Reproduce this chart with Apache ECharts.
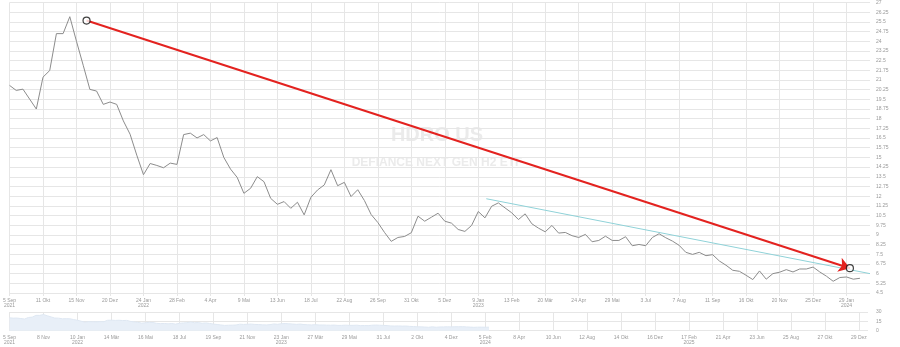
<!DOCTYPE html>
<html><head><meta charset="utf-8">
<script src="https://cdn.jsdelivr.net/npm/echarts@6/dist/echarts.min.js"></script>
<style>html,body{margin:0;padding:0;background:#fff}#c{width:900px;height:347px}</style>
</head><body><div id="c"></div>
<script>
// weekly closes, week 0 = 5 Sep 2021
const prices = [
  20.58, 20.19, 20.29, 19.52, 18.75, 21.22, 21.73, 24.59, 24.59, 25.90,
  23.99, 22.14, 20.27, 20.14, 19.11, 19.29, 19.11, 17.83, 16.80, 15.18,
  13.66, 14.53, 14.38, 14.20, 14.56, 14.46, 16.77, 16.88, 16.51, 16.77,
  16.28, 16.54, 15.00, 14.10, 13.45, 12.22, 12.61, 13.51, 13.12, 11.83,
  11.37, 11.58, 11.06, 11.53, 10.55, 11.91, 12.48, 12.87, 14.05, 12.81,
  13.07, 11.97, 12.50, 11.66, 10.58, 9.96, 9.19, 8.50, 8.80, 8.88,
  9.17, 10.45, 10.06, 10.37, 10.68, 10.06, 9.91, 9.42, 9.27, 9.73,
  10.81, 10.32, 11.22, 11.48, 11.09, 10.71, 10.19, 10.63, 9.86, 9.52,
  9.24, 9.73, 9.14, 9.19, 8.94, 8.80, 9.04, 8.47, 8.57, 8.90,
  8.57, 8.57, 8.86, 8.16, 8.26, 8.16, 8.80, 9.09, 8.78, 8.52,
  8.19, 7.65, 7.49, 7.65, 7.39, 7.47, 6.98, 6.65, 6.26, 6.18,
  5.87, 5.54, 6.21, 5.57, 6.00, 6.11, 6.31, 6.13, 6.36, 6.36,
  6.51, 6.13, 5.80, 5.41, 5.70, 5.74, 5.57, 5.64
];
const mainTickLabels = ['5 Sep\n2021','11 Okt','15 Nov','20 Dez','24 Jan\n2022','28 Feb','4 Apr','9 Mai','13 Jun','18 Jul','22 Aug','26 Sep','31 Okt','5 Dez','9 Jan\n2023','13 Feb','20 Mär','24 Apr','29 Mai','3 Jul','7 Aug','11 Sep','16 Okt','20 Nov','25 Dez','29 Jan\n2024'];
const navTickLabels = ['5 Sep\n2021','8 Nov','10 Jan\n2022','14 Mär','16 Mai','18 Jul','19 Sep','21 Nov','23 Jan\n2023','27 Mär','29 Mai','31 Jul','2 Okt','4 Dez','5 Feb\n2024','8 Apr','10 Jun','12 Aug','14 Okt','16 Dez','17 Feb\n2025','21 Apr','23 Jun','25 Aug','27 Okt','29 Dez'];
// annotations in data units [week, price]
const arrowStart = [11.5, 25.6];
const arrowEnd = [125.5, 6.42];
const trendStart = [71.2, 11.8];
const trendEnd = [128.5, 6.0];

const font = '"Liberation Sans", Arial, sans-serif';
const gridColor = '#e6e6e6';
const labelColor = '#9a9a9a';
const pts = prices.map((v, i) => [i, v]);

const chart = echarts.init(document.getElementById('c'), null, {renderer: 'canvas'});
chart.setOption({
  animation: false,
  textStyle: {fontFamily: font},
  grid: [
    {left: 3, right: 30, top: 1, height: 292},
    {left: 4, right: 32, top: 312, height: 18.7}
  ],
  graphic: [
    {type: 'text', z: 0, silent: true,
     style: {text: 'HDRO US', x: 437, y: 135, textAlign: 'center', textVerticalAlign: 'middle', font: 'bold 20px "Liberation Sans", Arial, sans-serif', fill: '#ebebeb'}},
    {type: 'text', z: 0, silent: true,
     style: {text: 'DEFIANCE NEXT GEN H2 ETF', x: 437, y: 163, textAlign: 'center', textVerticalAlign: 'middle', font: 'bold 12px "Liberation Sans", Arial, sans-serif', fill: '#ebebeb'}}
  ],
  xAxis: [
    {type: 'value', gridIndex: 0, min: 0, max: 128.5, interval: 5,
     axisLine: {show: false},
     axisTick: {show: true, length: 3, lineStyle: {color: gridColor}},
     splitLine: {show: true, showMaxLine: false, lineStyle: {color: gridColor, width: 1}},
     axisLabel: {show: true, showMaxLabel: false, fontSize: 5, lineHeight: 5, color: labelColor, margin: 5,
       formatter: v => (Math.abs(v % 5) < 1e-9 ? (mainTickLabels[Math.round(v / 5)] || '') : '')}},
    {type: 'value', gridIndex: 1, min: 0, max: 227.4, interval: 9,
     axisLine: {show: false},
     axisTick: {show: false},
     splitLine: {show: true, showMaxLine: false, lineStyle: {color: gridColor, width: 1}},
     axisLabel: {show: true, showMaxLabel: false, fontSize: 5, lineHeight: 5, color: labelColor, margin: 4,
       formatter: v => (Math.abs(v % 9) < 1e-9 ? (navTickLabels[Math.round(v / 9)] || '') : '')}}
  ],
  yAxis: [
    {type: 'value', gridIndex: 0, position: 'right', min: 4.5, max: 27, interval: 0.75,
     axisLine: {show: false}, axisTick: {show: false},
     splitLine: {show: true, lineStyle: {color: gridColor, width: 1}},
     axisLabel: {fontSize: 5, color: labelColor, margin: 6}},
    {type: 'value', gridIndex: 1, position: 'right', min: 0, max: 30, interval: 15,
     axisLine: {show: false}, axisTick: {show: false},
     splitLine: {show: true, lineStyle: {color: gridColor, width: 1}},
     axisLabel: {fontSize: 5, color: labelColor, margin: 8}}
  ],
  series: [
    {type: 'line', xAxisIndex: 0, yAxisIndex: 0, data: pts, showSymbol: false, z: 3,
     lineStyle: {color: '#8c8c8c', width: 1}},
    {type: 'line', xAxisIndex: 0, yAxisIndex: 0, data: [trendStart, trendEnd], showSymbol: false, z: 4,
     lineStyle: {color: '#8fd2d8', width: 1}},
    {type: 'lines', coordinateSystem: 'cartesian2d', xAxisIndex: 0, yAxisIndex: 0, z: 5,
     symbol: ['none', 'arrow'], symbolSize: [9, 11],
     lineStyle: {color: '#e3221f', width: 2, opacity: 1, curveness: 0},
     data: [{coords: [arrowStart, arrowEnd]}]},
    {type: 'scatter', xAxisIndex: 0, yAxisIndex: 0, z: 6, symbol: 'circle', symbolSize: 7,
     itemStyle: {color: '#ffffff', borderColor: '#111', borderWidth: 1.2},
     data: [arrowStart, arrowEnd]},
    {type: 'line', xAxisIndex: 1, yAxisIndex: 1, data: pts, showSymbol: false, z: 2,
     lineStyle: {color: '#dfe8f3', width: 1}, areaStyle: {color: '#e8eff8', opacity: 1}}
  ]
});
</script></body></html>
